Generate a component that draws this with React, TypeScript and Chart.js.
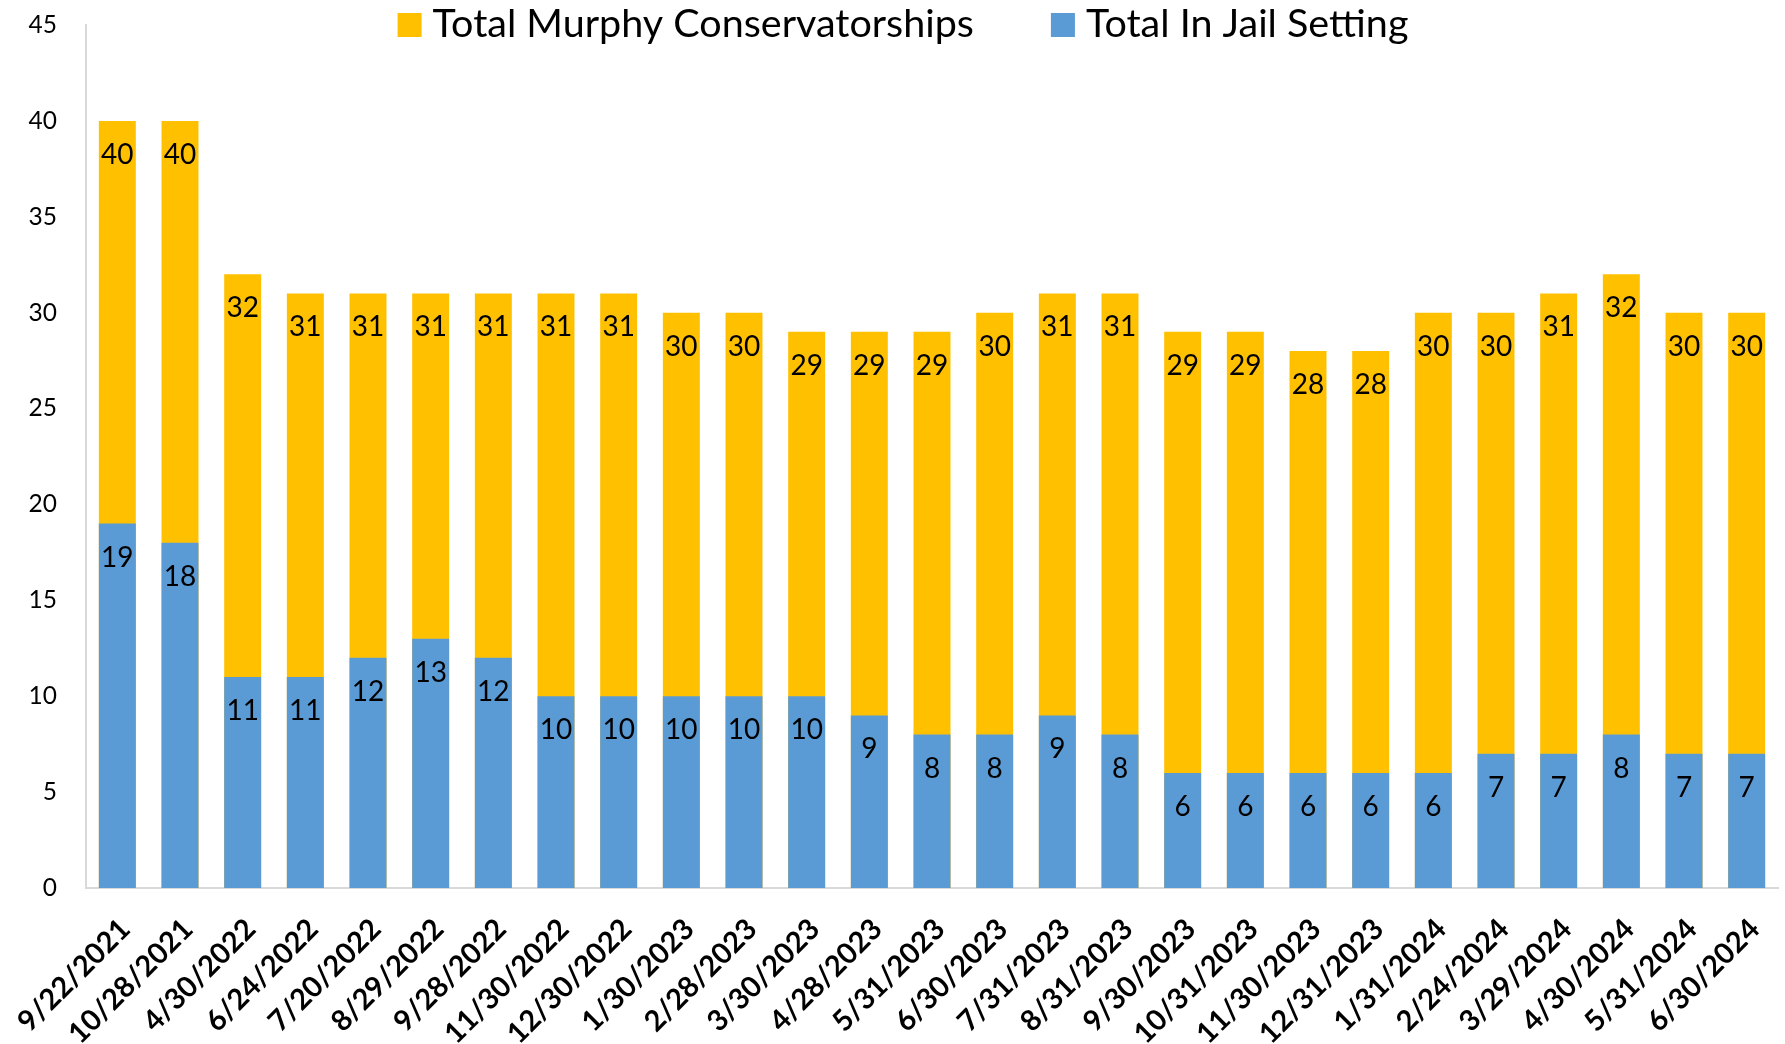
import React, { useEffect, useRef } from "react";
import { Chart, registerables } from "chart.js";

Chart.register(...registerables);

const categories = [
  "9/22/2021", "10/28/2021", "4/30/2022", "6/24/2022", "7/20/2022", "8/29/2022",
  "9/28/2022", "11/30/2022", "12/30/2022", "1/30/2023", "2/28/2023", "3/30/2023",
  "4/28/2023", "5/31/2023", "6/30/2023", "7/31/2023", "8/31/2023", "9/30/2023",
  "10/31/2023", "11/30/2023", "12/31/2023", "1/31/2024", "2/24/2024", "3/29/2024",
  "4/30/2024", "5/31/2024", "6/30/2024",
];

const totalMurphy = [40, 40, 32, 31, 31, 31, 31, 31, 31, 30, 30, 29, 29, 29, 30, 31, 31, 29, 29, 28, 28, 30, 30, 31, 32, 30, 30];
const totalJail = [19, 18, 11, 11, 12, 13, 12, 10, 10, 10, 10, 10, 9, 8, 8, 9, 8, 6, 6, 6, 6, 6, 7, 7, 8, 7, 7];

const yTicks = [0, 5, 10, 15, 20, 25, 30, 35, 40, 45];

const FONT = "Lato, 'Open Sans', sans-serif";
const YELLOW = "#FFC000";
const BLUE = "#5B9BD5";

const valueLabels = {
  id: "valueLabels",
  afterDatasetsDraw(chart: any) {
    const ctx = chart.ctx;
    ctx.save();
    ctx.font = `28px ${FONT}`;
    ctx.fillStyle = "#000";
    ctx.textAlign = "center";
    ctx.textBaseline = "alphabetic";
    chart.data.datasets.forEach((ds: any, i: number) => {
      const meta = chart.getDatasetMeta(i);
      meta.data.forEach((bar: any, j: number) => {
        ctx.fillText(String(ds.data[j]), bar.x, bar.y + 43);
      });
    });
    ctx.restore();
  },
};

const topLegend = {
  id: "topLegend",
  afterDraw(chart: any, _args: any, opts: any) {
    const ctx = chart.ctx;
    ctx.save();
    ctx.font = `${opts.fontSize}px ${FONT}`;
    ctx.textBaseline = "alphabetic";
    ctx.textAlign = "left";
    const box = opts.box;
    const gap = opts.gap;
    const spacing = opts.spacing;
    const items = chart.data.datasets.map((ds: any) => ({
      text: ds.label,
      color: ds.backgroundColor,
      w: ctx.measureText(ds.label).width,
    }));
    const total = items.reduce((s: number, it: any) => s + box + gap + it.w, 0) + spacing * (items.length - 1);
    let x = opts.centerX - total / 2;
    const baseline = opts.baseline;
    items.forEach((it: any) => {
      ctx.fillStyle = it.color;
      ctx.fillRect(x, baseline - box, box, box);
      ctx.fillStyle = "#000";
      ctx.fillText(it.text, x + box + gap, baseline);
      x += box + gap + it.w + spacing;
    });
    ctx.restore();
  },
};

export default function App() {
  const ref = useRef<HTMLCanvasElement>(null);

  useEffect(() => {
    document.body.style.margin = "0";
    const canvas = ref.current;
    if (!canvas) return;
    const chart = new Chart(canvas, {
      type: "bar",
      data: {
        labels: categories,
        datasets: [
          {
            label: "Total Murphy Conservatorships",
            data: totalMurphy,
            backgroundColor: YELLOW,
            grouped: false,
            order: 1,
            categoryPercentage: 1,
            barPercentage: 0.59,
          },
          {
            label: "Total In Jail Setting",
            data: totalJail,
            backgroundColor: BLUE,
            grouped: false,
            order: 0,
            categoryPercentage: 1,
            barPercentage: 0.59,
          },
        ] as any,
      },
      options: {
        responsive: false,
        animation: false,
        layout: { padding: { top: 25, right: 7, left: 0, bottom: 0 } },
        plugins: {
          legend: { display: false },
          tooltip: { enabled: false },
          topLegend: { fontSize: 39.5, box: 24, gap: 11, spacing: 77, centerX: 903, baseline: 37 },
        } as any,
        scales: {
          x: {
            grid: { display: false },
            border: { display: true, color: "#d9d9d9", width: 2 },
            ticks: {
              autoSkip: false,
              maxRotation: 45,
              minRotation: 45,
              padding: 16,
              labelOffset: 8,
              color: "#000",
              font: { family: FONT, size: 29, weight: "bold" },
            },
            afterFit: (scale: any) => {
              scale.height = 156;
              scale.paddingLeft = 0;
              scale.paddingRight = 0;
            },
          },
          y: {
            min: 0,
            max: 45,
            grid: { display: false },
            border: { display: true, color: "#d9d9d9", width: 2 },
            afterBuildTicks: (scale: any) => {
              scale.ticks = yTicks.map((v) => ({ value: v }));
            },
            ticks: {
              padding: 21,
              color: "#000",
              font: { family: FONT, size: 24.5 },
            },
            afterFit: (scale: any) => {
              scale.width = 86;
              scale.paddingTop = 0;
              scale.paddingBottom = 0;
            },
          },
        },
      },
      plugins: [valueLabels, topLegend],
    });
    return () => chart.destroy();
  }, []);

  return (
    <div style={{ width: 1785, height: 1044 }}>
      <canvas ref={ref} width={1785} height={1044} style={{ display: "block" }} />
    </div>
  );
}
